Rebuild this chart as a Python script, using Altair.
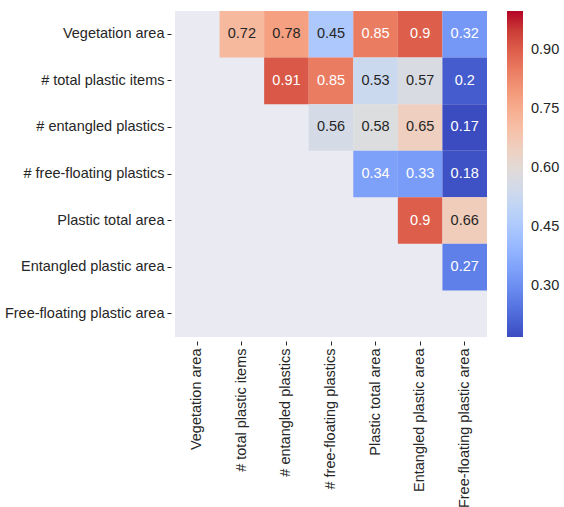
import altair as alt
import pandas as pd

# Variables of the correlation matrix, in display order
variables = [
    "Vegetation area",
    "# total plastic items",
    "# entangled plastics",
    "# free-floating plastics",
    "Plastic total area",
    "Entangled plastic area",
    "Free-floating plastic area",
]

# Upper-triangle entries (row index, column index, correlation)
pair_rows = [0, 0, 0, 0, 0, 0, 1, 1, 1, 1, 1, 2, 2, 2, 2, 3, 3, 3, 4, 4, 5]
pair_cols = [1, 2, 3, 4, 5, 6, 2, 3, 4, 5, 6, 3, 4, 5, 6, 4, 5, 6, 5, 6, 6]
corr = [0.72, 0.78, 0.45, 0.85, 0.9, 0.32,
        0.91, 0.85, 0.53, 0.57, 0.2,
        0.56, 0.58, 0.65, 0.17,
        0.34, 0.33, 0.18,
        0.9, 0.66,
        0.27]

# Colour bar ticks and range
cbar_ticks = [0.30, 0.45, 0.60, 0.75, 0.90]
vmin, vmax = 0.17, 1.0

# Diverging "coolwarm" colour stops (Moreland)
coolwarm = [
    "#3b4cc0", "#445acc", "#4d68d7", "#5775e1", "#6282ea", "#6c8ef1",
    "#779af7", "#82a5fb", "#8db0fe", "#98b9ff", "#a3c2ff", "#aec9fd",
    "#b8d0f9", "#c2d5f4", "#ccd9ee", "#d5dbe6", "#dddddd", "#e5d8d1",
    "#ecd3c5", "#f1ccb9", "#f5c4ad", "#f7bba0", "#f7b194", "#f7a687",
    "#f49a7b", "#f18d6f", "#ec7f63", "#e57058", "#de604d", "#d55042",
    "#cb3e38", "#c0282f", "#b40426",
]
n = len(coolwarm) - 1
stops = [vmin + (vmax - vmin) * k / n for k in range(n + 1)]

df = pd.DataFrame({
    "row": [variables[i] for i in pair_rows],
    "col": [variables[j] for j in pair_cols],
    "r": corr,
    "label": [str(v) for v in corr],
})

FONT = "Liberation Sans"
TEXT = "#262626"
SIZE = 14.5

x_enc = alt.X(
    "col:N", sort=variables, scale=alt.Scale(domain=variables, paddingInner=0, paddingOuter=0),
    axis=alt.Axis(title=None, labelAngle=-90, orient="bottom"),
)
y_enc = alt.Y(
    "row:N", sort=variables, scale=alt.Scale(domain=variables, paddingInner=0, paddingOuter=0),
    axis=alt.Axis(title=None),
)

cells = alt.Chart(df).mark_rect(strokeWidth=0).encode(
    x=x_enc,
    y=y_enc,
    color=alt.Color(
        "r:Q",
        scale=alt.Scale(domain=stops, range=coolwarm, interpolate="rgb"),
        legend=alt.Legend(
            title=None,
            orient="right",
            direction="vertical",
            offset=20,
            padding=0,
            gradientLength=326,
            gradientThickness=16,
            gradientStrokeWidth=0,
            values=cbar_ticks,
            format=".2f",
            labelOverlap=False,
            labelFont=FONT,
            labelFontSize=SIZE,
            labelColor=TEXT,
            labelOffset=8,
        ),
    ),
)

labels = alt.Chart(df).mark_text(font=FONT, fontSize=SIZE).encode(
    x=x_enc,
    y=y_enc,
    text="label:N",
    color=alt.condition(
        "datum.r >= 0.8 || datum.r <= 0.4", alt.value("white"), alt.value(TEXT)
    ),
)

chart = (
    (cells + labels)
    .properties(
        width=312,
        height=326,
        autosize=alt.AutoSizeParams(type="none"),
        padding={"left": 175, "top": 11, "right": 77, "bottom": 170},
        background="white",
    )
    .configure_view(fill="#EAEAF2", strokeWidth=0)
    .configure_axis(
        domain=False,
        grid=False,
        labelFont=FONT,
        labelFontSize=SIZE,
        labelColor=TEXT,
        tickColor=TEXT,
        tickSize=4,
        tickWidth=1,
        offset=4,
        labelPadding=3,
    )
)

chart.save("out.html", embed_options={"renderer": "svg", "actions": False})
